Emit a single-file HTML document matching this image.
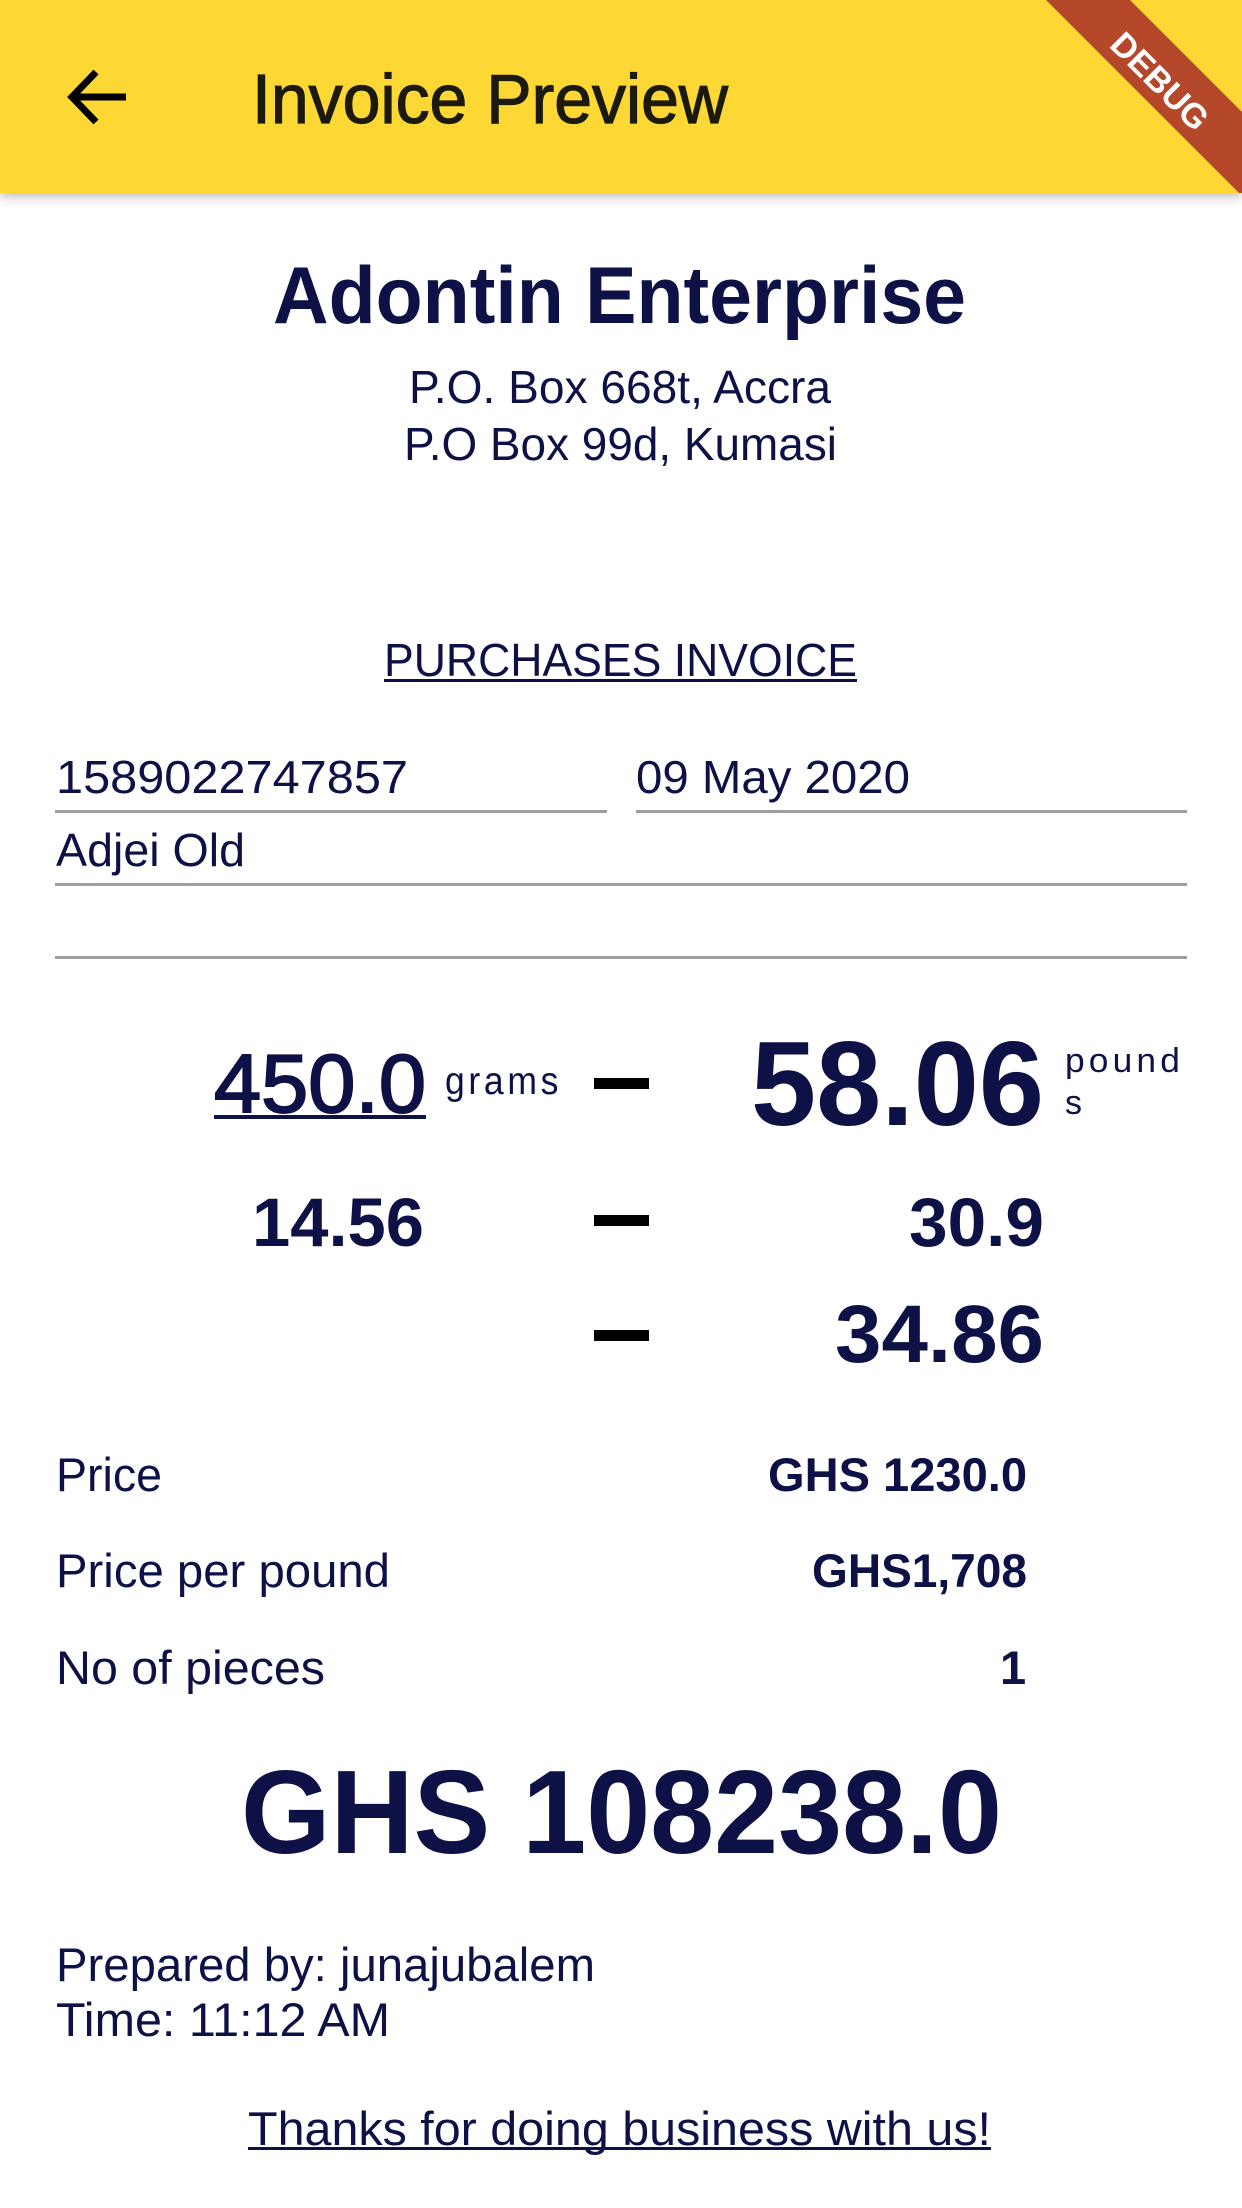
<!DOCTYPE html>
<html><head><meta charset="utf-8">
<style>
html,body{margin:0;padding:0;}
body{width:1242px;height:2208px;position:relative;overflow:hidden;background:#fff;font-family:"Liberation Sans",Arial,sans-serif;color:#0d1146;}
.t{position:absolute;white-space:nowrap;line-height:1;display:inline-block;transform-origin:0 0;}
.b{font-weight:bold;}
.m{-webkit-text-stroke:1.2px currentColor;}
.ln{position:absolute;height:3px;background:#9e9e9e;}
.ul{position:absolute;background:#0d1146;}
.dash{position:absolute;left:594px;width:55px;height:11px;background:#000;}
</style></head>
<body>
<div style="position:absolute;left:0;top:0;width:1242px;height:193px;background:#FDD835;box-shadow:0 4px 10px rgba(0,0,0,0.25);z-index:2;">
  <svg style="position:absolute;left:66px;top:66px" width="64" height="62" viewBox="0 0 64 62">
    <path d="M30 6 L6 31 L30 56 M6 31 L60 31" stroke="#000" stroke-width="7" fill="none" stroke-linejoin="miter"/>
  </svg>
  <span class="t m" data-w="476" style="left:252px;top:64px;font-size:70px;color:#1c1a0c;">Invoice Preview</span>
  <svg style="position:absolute;left:0;top:0" width="1242" height="193">
    <polygon points="1046,0 1130,0 1242,112 1242,196" fill="#b5472b"/>
    <text x="1160" y="93" fill="#fff" font-family="Liberation Sans, sans-serif" font-weight="bold" font-size="34" text-anchor="middle" transform="rotate(45 1160 81)">DEBUG</text>
  </svg>
</div>

<span class="t b" data-w="693" style="left:273px;top:256px;font-size:81px;">Adontin Enterprise</span>
<span class="t" data-w="422" style="left:409px;top:364px;font-size:46px;">P.O. Box 668t, Accra</span>
<span class="t" data-w="433" style="left:404px;top:421px;font-size:46px;">P.O Box 99d, Kumasi</span>

<span class="t" data-w="473" style="left:384px;top:637px;font-size:46px;">PURCHASES INVOICE</span>
<div class="ul" style="left:384px;top:679px;width:473px;height:3px;"></div>

<span class="t" data-w="352" style="left:56px;top:754px;font-size:46px;">1589022747857</span>
<span class="t" data-w="274" style="left:636px;top:754px;font-size:46px;">09 May 2020</span>
<div class="ln" style="left:55px;top:810px;width:552px;"></div>
<div class="ln" style="left:636px;top:810px;width:551px;"></div>
<span class="t" data-w="189" style="left:56px;top:827px;font-size:46px;">Adjei Old</span>
<div class="ln" style="left:55px;top:883px;width:1132px;"></div>
<div class="ln" style="left:55px;top:956px;width:1132px;"></div>

<span class="t m" data-w="212" style="left:214px;top:1042px;font-size:83px;-webkit-text-stroke:2px #0d1146;">450.0</span>
<div class="ul" style="left:214px;top:1115px;width:212px;height:4px;"></div>
<span class="t" data-w="117" style="left:445px;top:1062px;font-size:39px;letter-spacing:4px;">grams</span>
<div class="dash" style="top:1078px;"></div>
<span class="t b" data-w="293" style="left:751px;top:1024px;font-size:120px;">58.06</span>
<span class="t" data-w="119" style="left:1065px;top:1044px;font-size:34px;letter-spacing:4px;">pound</span>
<span class="t" style="left:1065px;top:1086px;font-size:34px;">s</span>

<span class="t b" data-w="172" style="left:252px;top:1188px;font-size:69px;">14.56</span>
<div class="dash" style="top:1215px;"></div>
<span class="t b" data-w="135" style="left:909px;top:1188px;font-size:69px;">30.9</span>
<div class="dash" style="top:1330px;"></div>
<span class="t b" data-w="209" style="left:835px;top:1294px;font-size:82px;">34.86</span>

<span class="t" data-w="106" style="left:56px;top:1451px;font-size:47px;">Price</span>
<span class="t b" data-w="259" style="left:768px;top:1451px;font-size:47px;">GHS 1230.0</span>
<span class="t" data-w="334" style="left:56px;top:1547px;font-size:47px;">Price per pound</span>
<span class="t b" data-w="215" style="left:812px;top:1547px;font-size:47px;">GHS1,708</span>
<span class="t" data-w="269" style="left:56px;top:1644px;font-size:47px;">No of pieces</span>
<span class="t b" style="left:1000px;top:1644px;font-size:47px;">1</span>

<span class="t b" data-w="761" style="left:241px;top:1753px;font-size:119px;">GHS 108238.0</span>

<span class="t" data-w="539" style="left:56px;top:1941px;font-size:47px;">Prepared by: junajubalem</span>
<span class="t" data-w="334" style="left:56px;top:1996px;font-size:47px;">Time: 11:12 AM</span>

<span class="t" data-w="743" style="left:248px;top:2105px;font-size:47px;">Thanks for doing business with us!</span>
<div class="ul" style="left:248px;top:2147px;width:743px;height:3px;"></div>

<script>
document.querySelectorAll('.t[data-w]').forEach(function(el){
  var w=parseFloat(el.getAttribute('data-w'));
  var a=el.getBoundingClientRect().width;
  if(a>0){el.style.transform='scaleX('+(w/a)+')';}
});
</script>
</body></html>
